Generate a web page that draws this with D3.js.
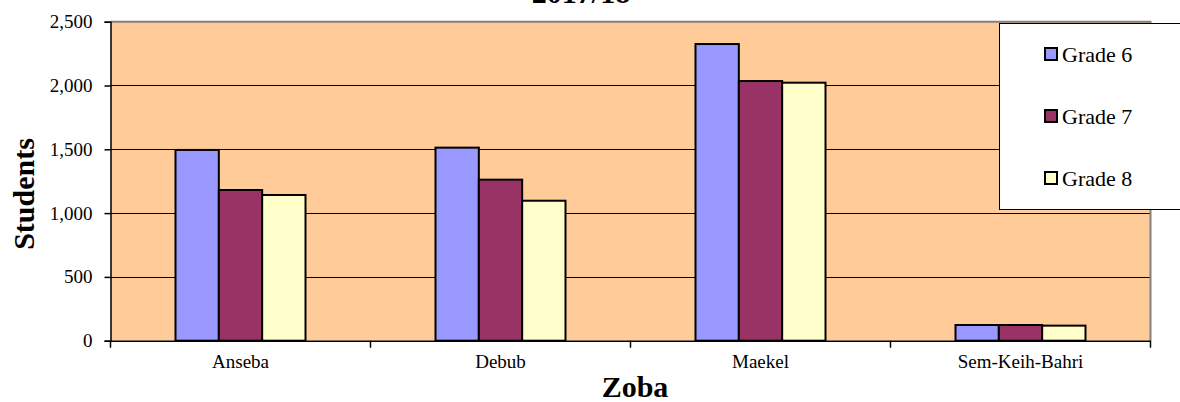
<!DOCTYPE html>
<html>
<head>
<meta charset="utf-8">
<script src="https://cdn.jsdelivr.net/npm/d3@7"></script>
<style>
  html, body { margin: 0; padding: 0; background: #fff; }
  svg { display: block; }
</style>
</head>
<body>
<svg id="chart" width="1180" height="402"></svg>
<script>
const categories = ["Anseba", "Debub", "Maekel", "Sem-Keih-Bahri"];
const seriesNames = ["Grade 6", "Grade 7", "Grade 8"];
const grade6 = [1495, 1513, 2325, 123];
const grade7 = [1181, 1262, 2035, 123];
const grade8 = [1142, 1097, 2022, 118];
const seriesColors = ["#9999FF", "#993366", "#FFFFCC"];
const yTicks = [0, 500, 1000, 1500, 2000, 2500];
const titleText = "2017/18";
const xTitle = "Zoba";
const yTitle = "Students";

const FONT = "'Liberation Serif', 'Times New Roman', serif";
const seriesValues = [grade6, grade7, grade8];
const svg = d3.select("#chart").attr("font-family", FONT);

const pLeft = 110.5, pRight = 1150.5, pTop = 21.7, pBottom = 340.7;

const x0 = d3.scaleBand().domain(categories).range([pLeft, pRight]).padding(0);
const bw = x0.bandwidth();
const x1 = d3.scaleBand().domain(seriesNames).range([bw * 0.25, bw * 0.75]).padding(0);
const y = d3.scaleLinear().domain([0, 2500]).range([pBottom, pTop]);

// plot background
svg.append("rect")
  .attr("x", pLeft).attr("y", pTop)
  .attr("width", pRight - pLeft).attr("height", pBottom - pTop)
  .attr("fill", "#FFCC99");

// gridlines
svg.append("g").selectAll("line")
  .data(yTicks.filter(d => d > 0 && d < 2500))
  .join("line")
  .attr("x1", pLeft).attr("x2", pRight)
  .attr("y1", d => Math.round(y(d)) + 0.5).attr("y2", d => Math.round(y(d)) + 0.5)
  .attr("stroke", "#000").attr("stroke-width", 1);

// plot border top/right gray
svg.append("path")
  .attr("d", `M${pLeft},${pTop}H${pRight}V${pBottom}`)
  .attr("fill", "none").attr("stroke", "#808080").attr("stroke-width", 2);

// bars
const groups = svg.append("g").selectAll("g")
  .data(categories)
  .join("g")
  .attr("transform", d => `translate(${x0(d)},0)`);

groups.selectAll("rect")
  .data((c, i) => seriesNames.map((s, j) => ({ s, v: seriesValues[j][i], color: seriesColors[j] })))
  .join("rect")
  .attr("x", d => x1(d.s))
  .attr("y", d => y(d.v))
  .attr("width", x1.bandwidth())
  .attr("height", d => y(0) - y(d.v))
  .attr("fill", d => d.color)
  .attr("stroke", "#000")
  .attr("stroke-width", 2);

// y axis
const yAxis = d3.axisLeft(y).tickValues(yTicks).tickFormat(d3.format(",")).tickSize(6).tickPadding(12);
const gy = svg.append("g").attr("transform", `translate(${pLeft},0)`).call(yAxis)
  .attr("font-family", FONT);
gy.select(".domain").attr("stroke", "#000").attr("stroke-width", 1.5);
gy.selectAll(".tick line").attr("stroke", "#000").attr("stroke-width", 1.5);
gy.selectAll(".tick text").attr("font-size", 19).attr("fill", "#000");

// x axis
const gx = svg.append("g").attr("transform", `translate(0,${pBottom})`)
  .call(d3.axisBottom(x0).tickSize(0).tickPadding(14))
  .attr("font-family", FONT);
gx.select(".domain").attr("stroke", "#000").attr("stroke-width", 1.5);
gx.selectAll(".tick text").attr("font-size", 19).attr("fill", "#000");
// category boundary tick marks
const boundaries = categories.map(c => x0(c)).concat([pRight]);
svg.append("g").selectAll("line").data(boundaries).join("line")
  .attr("x1", d => d).attr("x2", d => d)
  .attr("y1", pBottom).attr("y2", pBottom + 7)
  .attr("stroke", "#000").attr("stroke-width", 1.5);

// titles
svg.append("text").attr("x", 581).attr("y", 3)
  .attr("text-anchor", "middle").attr("font-size", 30).attr("font-weight", "bold")
  .attr("font-family", FONT)
  .text(titleText);
svg.append("text").attr("x", 635).attr("y", 397)
  .attr("text-anchor", "middle").attr("font-size", 30).attr("font-weight", "bold")
  .attr("font-family", FONT)
  .text(xTitle);
svg.append("text").attr("transform", "translate(34,194) rotate(-90)")
  .attr("text-anchor", "middle").attr("font-size", 30).attr("font-weight", "bold")
  .attr("font-family", FONT)
  .text(yTitle);

// legend
const legend = svg.append("g").attr("font-family", FONT);
legend.append("rect")
  .attr("x", 999.5).attr("y", 23.5).attr("width", 200).attr("height", 186)
  .attr("fill", "#fff").attr("stroke", "#000").attr("stroke-width", 1);
const legY = d3.scalePoint().domain(seriesNames).range([54, 178]);
const items = legend.selectAll("g.item").data(seriesNames).join("g").attr("class", "item");
items.append("rect")
  .attr("x", 1045).attr("y", d => legY(d) - 6)
  .attr("width", 12).attr("height", 12)
  .attr("fill", (d, i) => seriesColors[i])
  .attr("stroke", "#000").attr("stroke-width", 2);
items.append("text")
  .attr("x", 1062).attr("y", d => legY(d) + 8)
  .attr("font-size", 22).attr("fill", "#000")
  .attr("font-family", FONT)
  .text(d => d);
</script>
</body>
</html>
